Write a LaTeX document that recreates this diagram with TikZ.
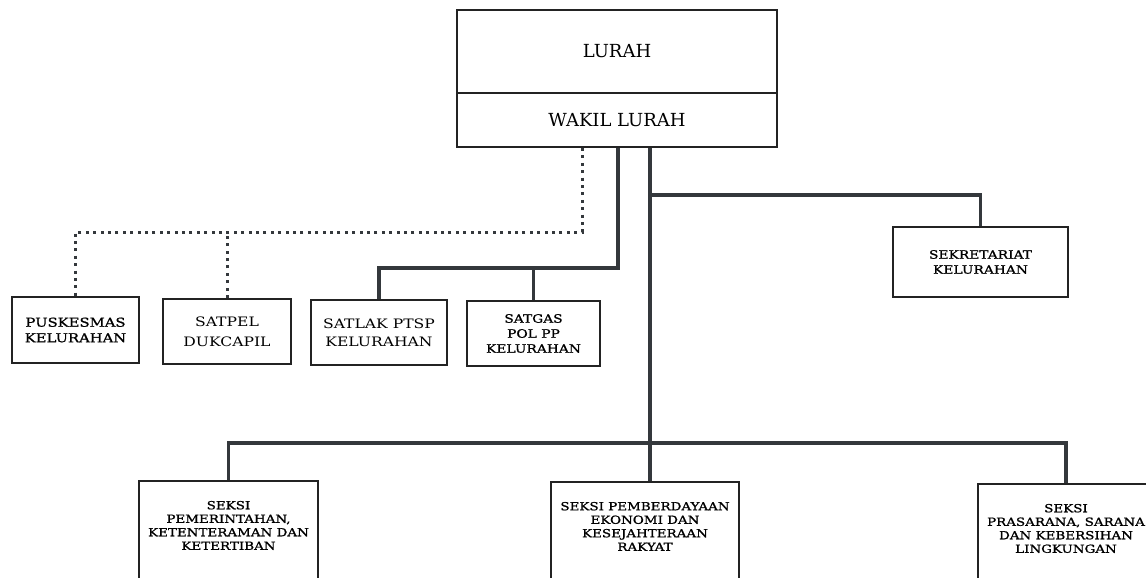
\documentclass[tikz,border=0pt]{standalone}
\usepackage{fontspec}
\setmainfont{DejaVu Serif}
\newfontfamily\widefont{DejaVu Serif}[FakeStretch=1.2]
\newfontfamily\widebold{DejaVu Serif}[FakeStretch=1.2,FakeBold=1.2]
\usepackage{xcolor}
\usepackage{tikz}
\definecolor{linegray}{RGB}{52,56,60}
\definecolor{boxgray}{RGB}{35,35,35}

\begin{document}
\begin{tikzpicture}[x=1pt,y=-1pt,
    box/.style={draw=boxgray,line width=2pt,rectangle,align=center,inner sep=0pt},
    bigbox/.style={box,anchor=north,inner ysep=20pt,text depth=80pt,
        font=\widebold\fontsize{11.2}{13.5}\selectfont},
    link/.style={draw=linegray,line width=3.4pt},
    dotlink/.style={draw=linegray,line width=3pt,dash pattern=on 3pt off 4.4pt}]
    \useasboundingbox (0,0) rectangle (1146,578);
    % Pimpinan
    \node[box,minimum width=320,minimum height=83,font=\fontsize{18}{20}\selectfont]
        (lurah) at (617,51.5) {LURAH};
    \node[box,minimum width=320,minimum height=54,font=\fontsize{18}{20}\selectfont]
        (wakil) at (617,120) {WAKIL LURAH};
    % Unit di bawah lurah
    \node[box,minimum width=127,minimum height=66,font=\widebold\fontsize{12.3}{15.5}\selectfont]
        (pusk) at (75.5,330) {PUSKESMAS\\KELURAHAN};
    \node[box,minimum width=128,minimum height=65,font=\widefont\fontsize{13}{20}\selectfont]
        (satpel) at (227,331.5) {SATPEL\\DUKCAPIL};
    \node[box,minimum width=136,minimum height=65,font=\widefont\fontsize{13}{18}\selectfont]
        (satlak) at (379,332.5) {SATLAK PTSP\\KELURAHAN};
    \node[box,minimum width=133,minimum height=65,font=\widebold\fontsize{11.5}{15}\selectfont]
        (satgas) at (533.5,333.5) {SATGAS\\POL PP\\KELURAHAN};
    \node[box,minimum width=175,minimum height=70,font=\widebold\fontsize{11.5}{15}\selectfont]
        (sekre) at (980.5,262) {SEKRETARIAT\\KELURAHAN};
    % Seksi
    \node[bigbox,minimum width=179] (seksa) at (228.5,480)
        {SEKSI\\PEMERINTAHAN,\\KETENTERAMAN DAN\\KETERTIBAN};
    \node[bigbox,minimum width=188] (seksb) at (645,481)
        {SEKSI PEMBERDAYAAN\\EKONOMI DAN\\KESEJAHTERAAN\\RAKYAT};
    \node[bigbox,minimum width=176] (seksc) at (1066,483)
        {SEKSI\\PRASARANA, SARANA\\DAN KEBERSIHAN\\LINGKUNGAN};
    % Titik cabang
    \coordinate (dj) at (582,232);
    \coordinate (sj) at (618,268);
    \coordinate (mj) at (650,195);
    \coordinate (bj) at (650,443);
    % Garis koordinasi
    \draw[dotlink] (dj |- wakil.south) -- (dj) -| (pusk.north);
    \draw[dotlink] (satpel.north) -- (satpel.north |- dj);
    % Garis komando
    \draw[link] (sj |- wakil.south) -- (sj) -| (satlak.north);
    \draw[link] (satgas.north) -- (satgas.north |- sj);
    \draw[link] (mj |- wakil.south) -- (mj) -| (sekre.north);
    \draw[link] (mj) -- (bj);
    \draw[link] (seksa.north) |- (bj) -| (seksc.north);
    \draw[link] (bj) -- (bj |- seksb.north);
\end{tikzpicture}
\end{document}
